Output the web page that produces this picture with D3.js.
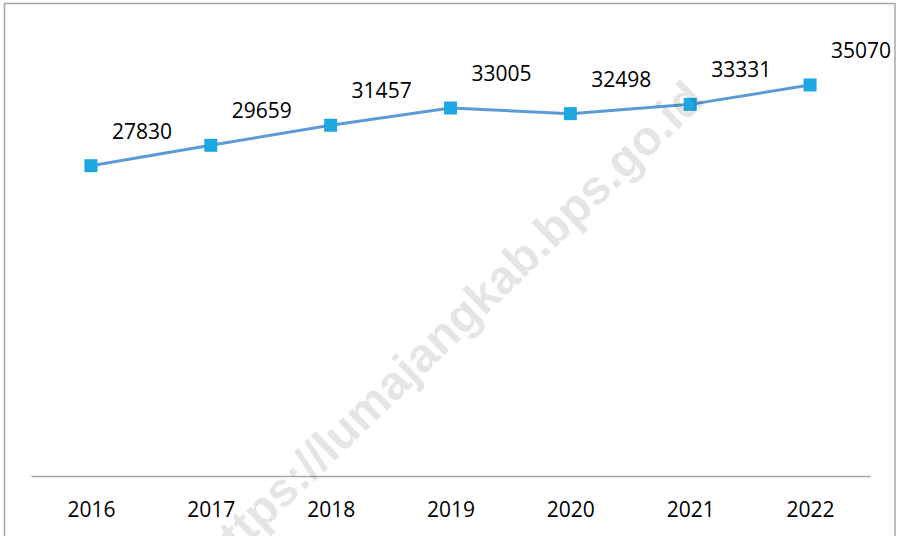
<!DOCTYPE html>
<html>
<head>
<meta charset="utf-8">
<script src="https://cdn.jsdelivr.net/npm/d3@7"></script>
<style>
  html, body { margin: 0; padding: 0; background: #fff; }
  svg { display: block; }
  text { font-family: "Open Sans", "Noto Sans", sans-serif; }
</style>
</head>
<body>
<svg id="chart" width="897" height="536"></svg>
<script>
// data
const years = ["2016", "2017", "2018", "2019", "2020", "2021", "2022"];
const values = [27830, 29659, 31457, 33005, 32498, 33331, 35070];
const yDomain = [0, 40000];
const watermark = "https://lumajangkab.bps.go.id";

const W = 897, H = 536;
const margin = { left: 31, right: 27, top: 30, bottom: 60 };

const svg = d3.select("#chart");

// outer frame
svg.append("rect")
  .attr("x", 4.5).attr("y", 3.5)
  .attr("width", 890.5).attr("height", H + 10)
  .attr("fill", "#fff")
  .attr("stroke", "#a6a6a6")
  .attr("stroke-width", 1.5);

const x = d3.scalePoint()
  .domain(years)
  .range([margin.left, W - margin.right])
  .padding(0.5);

const y = d3.scaleLinear()
  .domain(yDomain)
  .range([H - margin.bottom, margin.top]);

// category axis
const xAxis = svg.append("g")
  .attr("transform", `translate(0,${y(0)})`)
  .call(d3.axisBottom(x).tickSize(0).tickPadding(26));

xAxis.select(".domain")
  .attr("stroke", "#a6a6a6")
  .attr("stroke-width", 1.3);

xAxis.selectAll("text")
  .style("font-family", "'Open Sans', 'Noto Sans', sans-serif")
  .style("font-size", "21px")
  .attr("fill", "#000")
  .attr("dy", "0.71em");

// line
const line = d3.line()
  .x((d, i) => x(years[i]))
  .y((d) => y(d));

svg.append("path")
  .datum(values)
  .attr("d", line)
  .attr("fill", "none")
  .attr("stroke", "#5b9bd5")
  .attr("stroke-width", 3)
  .attr("stroke-linejoin", "round");

// markers
const size = 13;
svg.append("g")
  .selectAll("rect")
  .data(values)
  .join("rect")
  .attr("x", (d, i) => x(years[i]) - size / 2)
  .attr("y", (d) => y(d) - size / 2)
  .attr("width", size)
  .attr("height", size)
  .attr("fill", "#1fa7e1");

// data labels
svg.append("g")
  .selectAll("text")
  .data(values)
  .join("text")
  .attr("x", (d, i) => x(years[i]) + 51)
  .attr("y", (d) => y(d) - 27)
  .attr("text-anchor", "middle")
  .style("font-size", "21px")
  .attr("fill", "#000")
  .text((d) => d);

// watermark (runs off the bottom edge, as in the source)
svg.append("text")
  .attr("transform", "translate(462,338) rotate(-44)")
  .attr("text-anchor", "middle")
  .style("font-family", "'Liberation Sans', Arial, sans-serif")
  .style("font-weight", "bold")
  .style("font-size", "48px")
  .attr("fill", "#000")
  .attr("fill-opacity", 0.1)
  .text(watermark);
</script>
</body>
</html>
